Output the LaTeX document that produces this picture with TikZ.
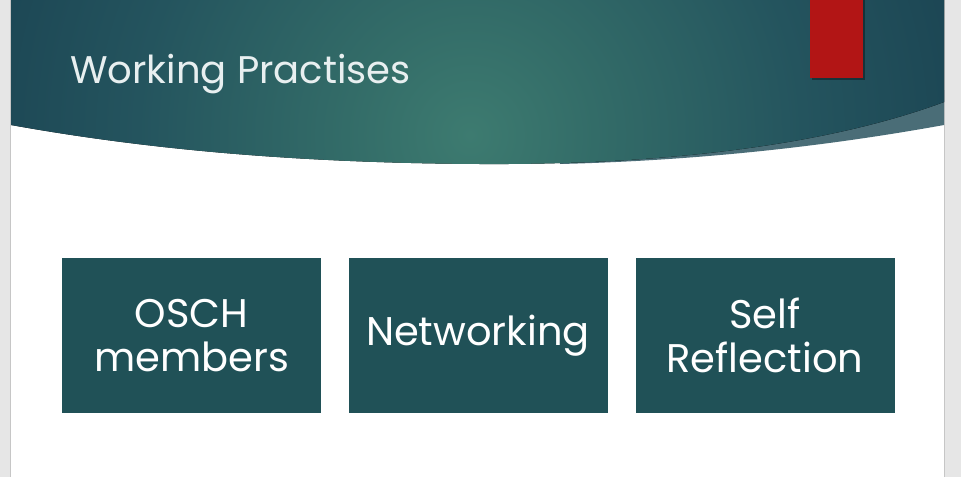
\documentclass[tikz,border=0pt]{standalone}
\usepackage{fontspec}
\setmainfont{Poppins}
\definecolor{sidegray}{HTML}{E6E6E6}
\definecolor{sideline}{HTML}{C6C6C6}
\definecolor{bandlight}{HTML}{4A6D77}
\definecolor{boxteal}{HTML}{205157}
\definecolor{redbar}{HTML}{B21515}
\definecolor{titlecol}{HTML}{E8EFF0}
\definecolor{gA}{HTML}{3D7B70}
\definecolor{gB}{HTML}{336C68}
\definecolor{gC}{HTML}{24545E}
\definecolor{gD}{HTML}{183F4F}
\definecolor{gE}{HTML}{113749}
\pgfdeclareradialshading{headshade}{\pgfpoint{0bp}{0bp}}{%
  color(0bp)=(gA); color(6bp)=(gB); color(16bp)=(gC); color(28bp)=(gD); color(38bp)=(gE); color(50bp)=(gE)}
\tikzset{
  box/.style={fill=boxteal, minimum width=259pt, minimum height=155pt, inner sep=0pt,
    align=center, text=white, font=\fontsize{40}{44}\selectfont},
}
\begin{document}
\begin{tikzpicture}[x=1pt,y=-1pt]
\useasboundingbox (0,0) rectangle (961,477);
\fill[white] (0,0) rectangle (961,477);
% side strips
\fill[sidegray] (0,0) rectangle (10,477);
\fill[sidegray] (945,0) rectangle (961,477);
\draw[sideline, line width=1pt] (10.5,0) -- (10.5,477);
\draw[sideline, line width=1pt] (944.5,0) -- (944.5,477);
% light band at right
\fill[bandlight] (560,164) .. controls (720,160) and (850,142) .. (944,125) -- (944,90) -- (560,140) -- cycle;
% header
\begin{scope}
\clip (11,0) -- (944,0) -- (944,102) .. controls (820,148) and (650,165) .. (480,164)
   .. controls (300,163) and (150,150) .. (11,125) -- cycle;
\fill[shading=headshade] (470,135) circle (520pt);
\end{scope}
% red bar with shadow
\fill[black, opacity=0.35] (811.5,0) rectangle (864.5,79.5);
\fill[redbar] (810,0) rectangle (863,78);
% title
\node[anchor=base west, inner sep=0pt, text=titlecol, font=\fontsize{38.5}{44}\selectfont] (title) at (70,83) {Working Practises};
% boxes
\node[box] (b1) at (191.5,335.5) {OSCH\\members};
\node[box] (b2) at (478,335.5) {Networking};
\node[box] (b3) at (765,335.5) {Self\\Reflection};
\end{tikzpicture}
\end{document}
